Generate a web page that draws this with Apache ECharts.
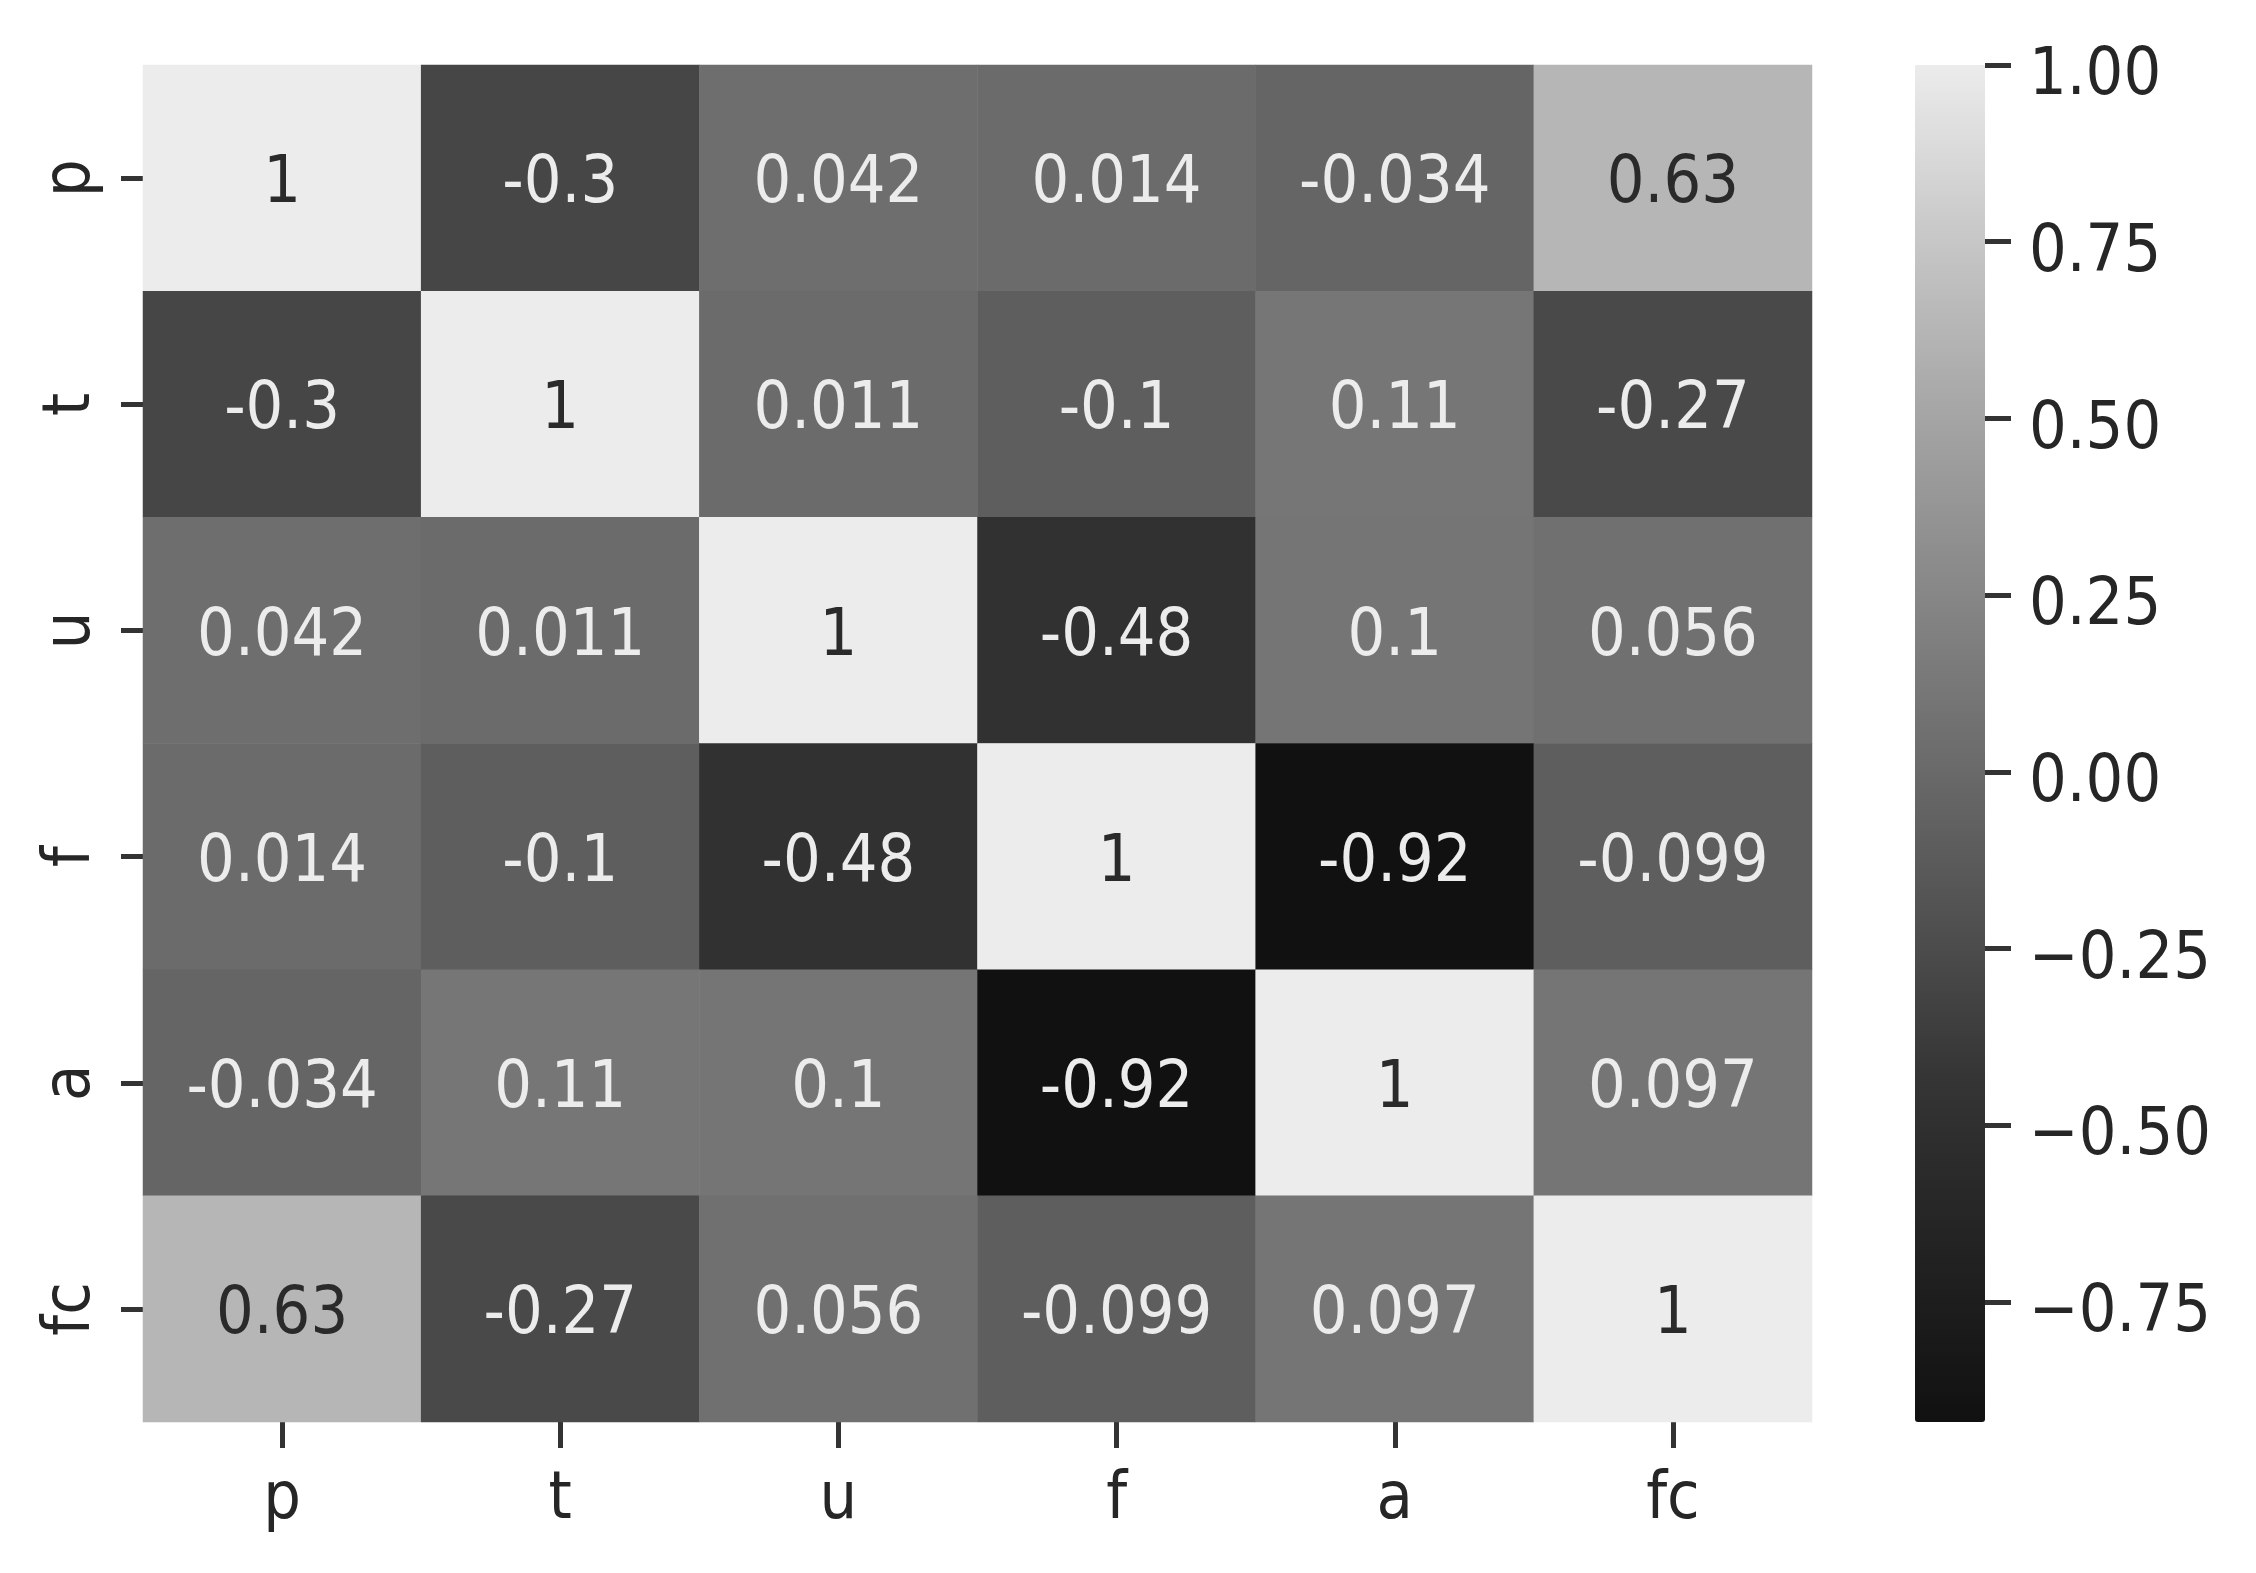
<!DOCTYPE html>
<html>
<head>
<meta charset="utf-8">
<script src="https://cdn.jsdelivr.net/npm/echarts@6/dist/echarts.min.js"></script>
<style>
  html, body { margin: 0; background: #fff; }
  #chart { width: 2256px; height: 1573px; }
</style>
</head>
<body>
<div id="chart"></div>
<script>
// variable names on both axes
const labels = ['p', 't', 'u', 'f', 'a', 'fc'];

// correlation rows, top to bottom
const pRow  = [1, -0.3, 0.042, 0.014, -0.034, 0.63];
const tRow  = [-0.3, 1, 0.011, -0.1, 0.11, -0.27];
const uRow  = [0.042, 0.011, 1, -0.48, 0.1, 0.056];
const fRow  = [0.014, -0.1, -0.48, 1, -0.92, -0.099];
const aRow  = [-0.034, 0.11, 0.1, -0.92, 1, 0.097];
const fcRow = [0.63, -0.27, 0.056, -0.099, 0.097, 1];

const colorbarTicks = [-0.75, -0.5, -0.25, 0, 0.25, 0.5, 0.75, 1];
const vMin = -0.92;
const vMax = 1;

const rows = [pRow, tRow, uRow, fRow, aRow, fcRow];
const FONT = '"DejaVu Sans Condensed", "DejaVu Sans", sans-serif';
const FS = 66;
const hiddenLine = { show: true, onZero: false, lineStyle: { color: 'rgba(0,0,0,0)', width: 0 } };
const tickStyle = { color: '#333', width: 5 };

// seaborn style: dark text on light cells, light text on dark ones
const cells = [];
rows.forEach((row, r) => {
  row.forEach((v, c) => {
    cells.push({
      value: [c, r, v],
      label: { color: v > 0.45 ? '#2a2a2a' : '#ececec' }
    });
  });
});

const chart = echarts.init(document.getElementById('chart'));
chart.setOption({
  backgroundColor: '#fff',
  animation: false,
  textStyle: { fontFamily: FONT },
  grid: [
    { left: 143, top: 65, width: 1669, height: 1357 },
    { left: 1915, top: 65, width: 70, height: 1357 }
  ],
  xAxis: [
    {
      type: 'category',
      data: labels,
      gridIndex: 0,
      axisLine: hiddenLine,
      axisTick: { show: true, alignWithLabel: true, length: 26, lineStyle: tickStyle },
      axisLabel: { fontSize: FS, fontFamily: FONT, color: '#262626', margin: 46 },
      splitLine: { show: false }
    },
    {
      type: 'category',
      data: [''],
      gridIndex: 1,
      show: false
    }
  ],
  yAxis: [
    {
      type: 'category',
      data: labels,
      gridIndex: 0,
      inverse: true,
      axisLine: hiddenLine,
      axisTick: { show: true, alignWithLabel: true, length: 22, lineStyle: tickStyle },
      axisLabel: { fontSize: FS, fontFamily: FONT, color: '#262626', rotate: 90, margin: 38 },
      splitLine: { show: false }
    },
    {
      type: 'value',
      gridIndex: 1,
      position: 'right',
      min: vMin,
      max: vMax,
      z: 5,
      axisLine: hiddenLine,
      splitLine: { show: false },
      axisTick: {
        show: true,
        inside: false,
        customValues: colorbarTicks,
        length: 26,
        lineStyle: tickStyle
      },
      axisLabel: {
        customValues: colorbarTicks,
        fontFamily: FONT,
        margin: 44,
        formatter: (v) => '{t|' + v.toFixed(2).replace('-', '\u2212') + '}',
        rich: {
          t: { fontSize: FS, fontFamily: FONT, color: '#262626', padding: [24, 0, 0, 0] }
        }
      }
    }
  ],
  visualMap: {
    type: 'continuous',
    seriesIndex: 0,
    min: vMin,
    max: vMax,
    calculable: false,
    orient: 'vertical',
    left: 1915,
    top: 65,
    itemWidth: 70,
    itemHeight: 1357,
    padding: 0,
    text: null,
    showLabel: false,
    inRange: {
      color: ['#111111', '#222222', '#343434', '#525252', '#6e6e6e',
              '#8a8a8a', '#a7a7a7', '#c8c8c8', '#ececec']
    }
  },
  series: [
    {
      type: 'heatmap',
      xAxisIndex: 0,
      yAxisIndex: 0,
      data: cells,
      label: {
        show: true,
        fontSize: FS,
        fontFamily: FONT,
        offset: [0, 7],
        formatter: (p) => String(p.value[2])
      },
      emphasis: { disabled: true }
    },
    {
      type: 'scatter',
      xAxisIndex: 1,
      yAxisIndex: 1,
      data: []
    }
  ]
});
</script>
</body>
</html>
